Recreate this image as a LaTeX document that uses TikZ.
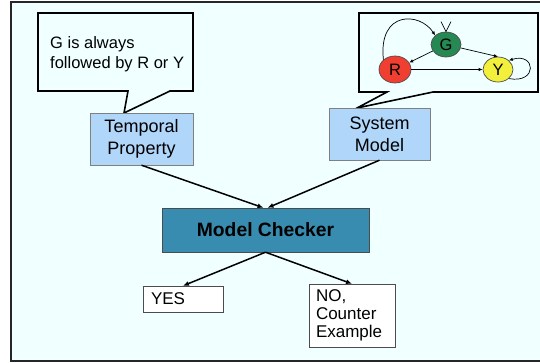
\documentclass[tikz,border=0pt]{standalone}
\usepackage{fontspec}
\setmainfont{Liberation Sans}
\usetikzlibrary{arrows.meta,positioning,shapes.geometric}
\usepackage{xcolor}
\definecolor{mcbg}{RGB}{240,255,255}
\definecolor{mcblue}{RGB}{176,214,250}
\definecolor{mcteal}{RGB}{56,140,176}
\definecolor{mcgreen}{RGB}{38,136,82}
\definecolor{mcred}{RGB}{240,62,48}
\definecolor{mcyellow}{RGB}{242,240,60}

\begin{document}
\begin{tikzpicture}[x=1pt, y=-1pt, >={Latex[length=6pt,width=5pt]}, every node/.style={font=\fontsize{18}{22}\selectfont, inner sep=0pt}]
  \useasboundingbox (0,0) rectangle (540,362);
  \fill[mcbg] (11,2) rectangle (540,361);
  \draw[line width=2pt,color=black!85] (540,2) -- (11,2) -- (11,361) -- (540,361);
  % callouts
  \coordinate (tip1) at (124,113);
  \coordinate (tip2) at (357,108);
  \draw[line width=1.6pt,fill=mcbg] (38,13) -- (193,13) -- (193,91) -- (170,91) -- (tip1) -- (128,91) -- (38,91) -- cycle;
  \draw[line width=1.6pt,fill=mcbg] (359,13) -- (538,13) -- (538,92) -- (433,92) -- (tip2) -- (387,92) -- (359,92) -- cycle;
  \node[anchor=west,align=left,font=\fontsize{16.5}{20}\selectfont] (spec) at (50,54) {G is always\\followed by R or Y};
  % boxes
  \node[draw=black!50,fill=mcblue,minimum width=103,minimum height=52,align=center] (tp) at (141.5,139) {Temporal\\Property};
  \node[draw=black!50,fill=mcblue,minimum width=101,minimum height=52,align=center] (sm) at (379.5,134) {System\\Model};
  \node[draw=black!70,fill=mcteal,minimum width=207,minimum height=44,font=\fontsize{19.3}{22}\selectfont\bfseries] (mc) at (265.5,230) {Model Checker};
  \node[draw=black!70,fill=white,minimum height=26,text width=64,inner xsep=8pt,align=left,font=\fontsize{17}{18}\selectfont] (yes) at (183,299) {YES};
  \node[draw=black!70,fill=white,minimum height=63,text width=72,inner xsep=7pt,align=left,font=\fontsize{17}{18}\selectfont] (no) at (352,315.5) {NO,\\Counter\\Example};
  \draw[->,line width=1.5pt] (tp.south) -- ([xshift=-2pt]mc.north);
  \draw[->,line width=1.5pt] (sm.south) -- ([xshift=2pt]mc.north);
  \draw[->,line width=1.5pt] (mc.south) -- (yes.north);
  \draw[->,line width=1.5pt] (mc.south) -- (no.north);
  % system model
  \begin{scope}[every node/.style={draw=black!70,ellipse,inner sep=0pt,font=\fontsize{16.5}{18}\selectfont}, ->, >={Latex[length=4pt,width=3.5pt]}, line width=0.7pt]
    \node[fill=mcgreen,minimum width=30,minimum height=25] (g) at (446,44.5) {G};
    \node[fill=mcred,minimum width=32,minimum height=27] (r) at (395,69.5) {R};
    \node[fill=mcyellow,minimum width=30,minimum height=25] (y) at (498,69.5) {Y};
    \draw (g) -- (r);
    \draw (g) -- (y.north);
    \draw (r) -- (y);
    \draw (r.north west) .. controls (378,10) and (420,12) .. (g.north west);
    \draw (y.south east) .. controls (538,84) and (536,52) .. (y.north east);
    \draw[-] ([shift={(-5,-10)}]g.north) -- (g.north) -- ([shift={(5,-10)}]g.north);
  \end{scope}
\end{tikzpicture}
\end{document}
